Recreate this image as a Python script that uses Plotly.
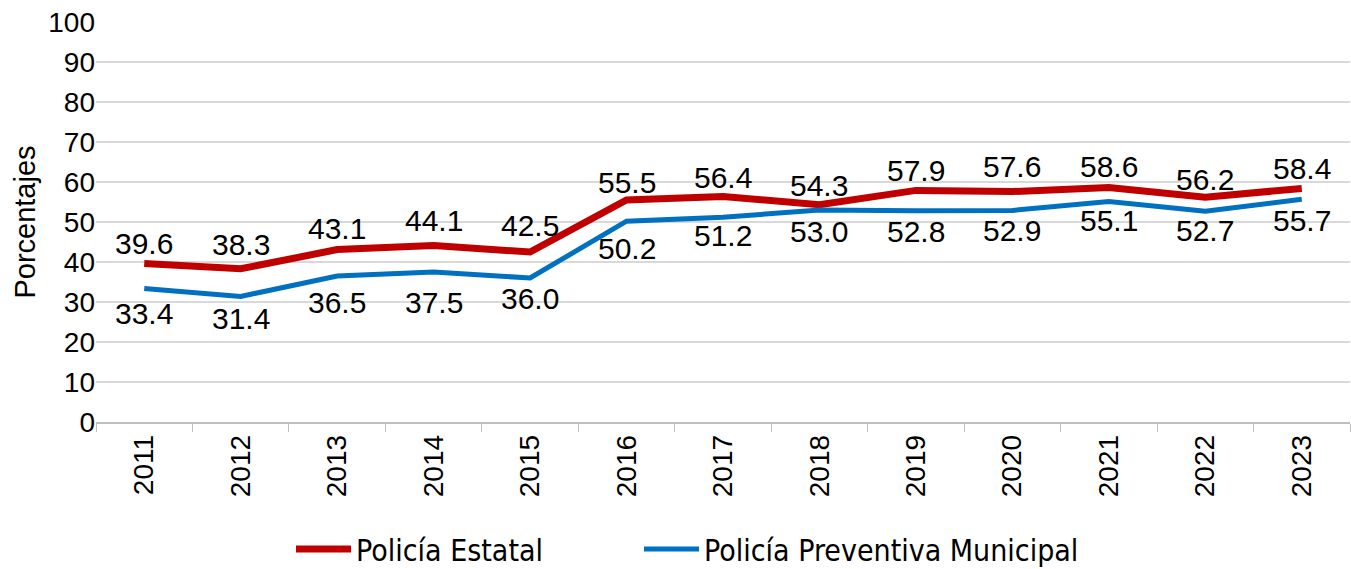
import plotly.graph_objects as go

years = ["2011", "2012", "2013", "2014", "2015", "2016", "2017", "2018", "2019", "2020", "2021", "2022", "2023"]
estatal = [39.6, 38.3, 43.1, 44.1, 42.5, 55.5, 56.4, 54.3, 57.9, 57.6, 58.6, 56.2, 58.4]
municipal = [33.4, 31.4, 36.5, 37.5, 36.0, 50.2, 51.2, 53.0, 52.8, 52.9, 55.1, 52.7, 55.7]

# label offsets in pixels (style only)
estatal_shift = [20, 24, 21, 25, 27, 18, 19, 19, 20, 25, 21, 18, 20]
municipal_shift = [25, 22, 26, 30, 20, 27, 18, 21, 21, 20, 19, 19, 21]

font_main = "Liberation Sans, Arial, sans-serif"

fig = go.Figure()
fig.add_trace(go.Scatter(
    x=years, y=estatal, name="Policía Estatal", mode="lines",
    line=dict(color="#C00000", width=7), legend="legend",
))
fig.add_trace(go.Scatter(
    x=years, y=municipal, name="Policía Preventiva Municipal", mode="lines",
    line=dict(color="#0070C0", width=5), legend="legend2",
))

# category axis: annotations use the category index
for i, (v, s) in enumerate(zip(estatal, estatal_shift)):
    fig.add_annotation(x=i, y=v, text=f"{v:.1f}", showarrow=False, yshift=s,
                       yanchor="middle", font=dict(size=30, color="black", family=font_main))
for i, (v, s) in enumerate(zip(municipal, municipal_shift)):
    fig.add_annotation(x=i, y=v, text=f"{v:.1f}", showarrow=False, yshift=-s,
                       yanchor="middle", font=dict(size=30, color="black", family=font_main))

leg_font = dict(family="DejaVu Sans Condensed, Liberation Sans Narrow, sans-serif", size=30, color="black")
fig.update_layout(
    width=1351, height=569,
    margin=dict(l=96, r=1, t=22, b=147),
    plot_bgcolor="white", paper_bgcolor="white",
    font=dict(family=font_main, color="black", size=28),
    showlegend=True,
    legend=dict(orientation="h", xref="container", yref="container",
                x=0.2154, xanchor="left", y=0.035, yanchor="middle",
                font=leg_font, itemwidth=55),
    legend2=dict(orientation="h", xref="container", yref="container",
                 x=0.473, xanchor="left", y=0.035, yanchor="middle",
                 font=leg_font, itemwidth=55),
)
fig.update_xaxes(
    type="category", range=[-0.5, len(years) - 0.5], tickangle=-90, tickfont=dict(size=28),
    showline=True, linecolor="#bfbfbf", linewidth=1.5,
    ticks="outside", tickson="boundaries", ticklen=8, tickcolor="#bfbfbf",
    showgrid=False, automargin=False,
)
fig.update_yaxes(
    range=[0, 100], dtick=10, tickfont=dict(size=28),
    showgrid=True, gridcolor="#d9d9d9", gridwidth=1.5,
    zeroline=False, ticks="", automargin=False,
    title=dict(text="Porcentajes", font=dict(size=29), standoff=4),
)

fig.write_html("out.html", config={"displayModeBar": False},
               post_script="document.body.style.margin='0';")
